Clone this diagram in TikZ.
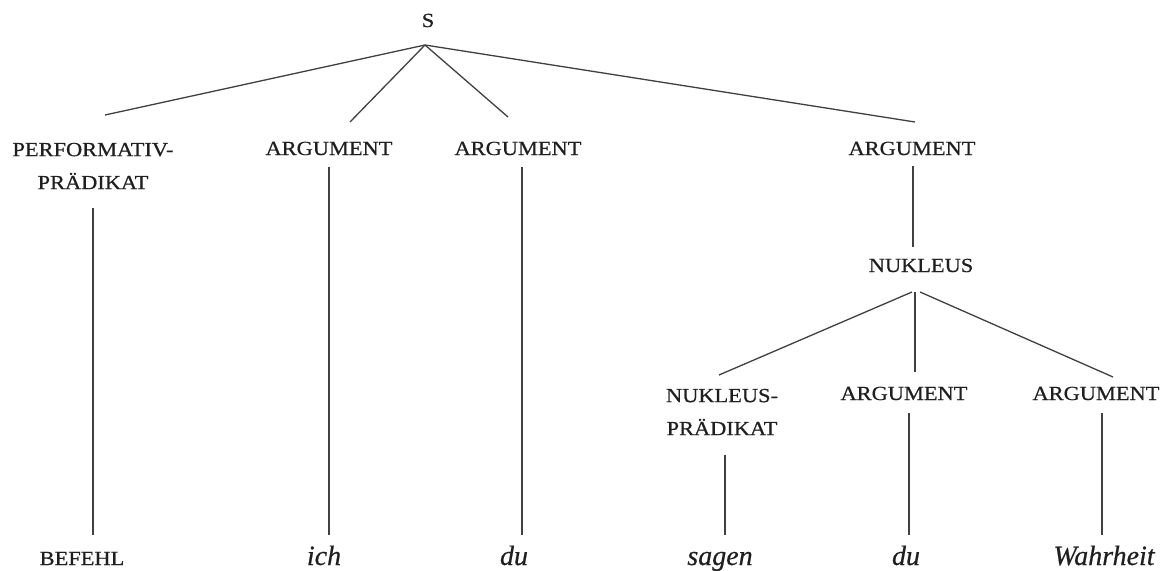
\documentclass[tikz,border=0pt]{standalone}
\usepackage{fontspec}
\setmainfont{Liberation Serif}
\newfontfamily\capsfont[FakeStretch=1.12,FakeBold=0.6]{Liberation Serif}
\newfontfamily\wordfont[FakeBold=0.5]{Liberation Serif}
\begin{document}
\begin{tikzpicture}[x=1pt,y=-1pt,
  cat/.style={font=\capsfont\fontsize{20}{33}\selectfont, text=black!88, inner sep=0pt, align=center},
  word/.style={font=\wordfont\fontsize{28}{30}\selectfont\itshape, text=black!88, inner sep=0pt, anchor=base},
  edge/.style={draw=black!75, line width=1.3pt}]
\useasboundingbox (0,0) rectangle (1166,570);
\fill[white] (0,0) rectangle (1166,570);

% category nodes
\node[cat, anchor=base] (S) at (428,27) {S};
\node[cat, anchor=center] (perf) at (93,166) {PERFORMATIV-\\PRÄDIKAT};
\node[cat, anchor=base] (arg1) at (329,155) {ARGUMENT};
\node[cat, anchor=base] (arg2) at (518,155) {ARGUMENT};
\node[cat, anchor=base] (arg3) at (912,155) {ARGUMENT};
\node[cat, anchor=base] (nuk) at (921,272) {NUKLEUS};
\node[cat, anchor=center] (nukpred) at (722,412) {NUKLEUS-\\PRÄDIKAT};
\node[cat, anchor=base] (arg4) at (904,400) {ARGUMENT};
\node[cat, anchor=base] (arg5) at (1096,400) {ARGUMENT};

% terminal words
\node[cat, anchor=base] (befehl) at (82,565) {BEFEHL};
\node[word] (ich) at (324,565) {ich};
\node[word] (du1) at (514,565) {du};
\node[word] (sagen) at (720,565) {sagen};
\node[word] (du2) at (906,565) {du};
\node[word] (wahrheit) at (1104,565) {Wahrheit};

% connector end points
\coordinate (S-b) at (425,45);
\coordinate (perf-t) at (105,115);
\coordinate (arg1-t) at (350,122);
\coordinate (arg2-t) at (508,117);
\coordinate (arg3-t) at (915,122);
\coordinate (perf-b) at (93,208);
\coordinate (befehl-t) at (93,535);
\coordinate (arg1-b) at (329,167);
\coordinate (ich-t) at (329,535);
\coordinate (arg2-b) at (522,167);
\coordinate (du1-t) at (522,535);
\coordinate (arg3-b) at (913,166);
\coordinate (nuk-t) at (913,247);
\coordinate (nuk-bl) at (912,292);
\coordinate (nuk-bm) at (915,292);
\coordinate (nuk-br) at (920,292);
\coordinate (nukpred-t) at (719,375);
\coordinate (arg4-t) at (915,372);
\coordinate (arg5-t) at (1113,377);
\coordinate (nukpred-b) at (725,455);
\coordinate (sagen-t) at (725,535);
\coordinate (arg4-b) at (909,413);
\coordinate (du2-t) at (909,535);
\coordinate (arg5-b) at (1102,413);
\coordinate (wahrheit-t) at (1102,535);

% connectors
\draw[edge] (S-b) -- (perf-t);
\draw[edge] (S-b) -- (arg1-t);
\draw[edge] (S-b) -- (arg2-t);
\draw[edge] (S-b) -- (arg3-t);
\draw[edge] (perf-b) -- (befehl-t);
\draw[edge] (arg1-b) -- (ich-t);
\draw[edge] (arg2-b) -- (du1-t);
\draw[edge] (arg3-b) -- (nuk-t);
\draw[edge] (nuk-bl) -- (nukpred-t);
\draw[edge] (nuk-bm) -- (arg4-t);
\draw[edge] (nuk-br) -- (arg5-t);
\draw[edge] (nukpred-b) -- (sagen-t);
\draw[edge] (arg4-b) -- (du2-t);
\draw[edge] (arg5-b) -- (wahrheit-t);
\end{tikzpicture}
\end{document}
